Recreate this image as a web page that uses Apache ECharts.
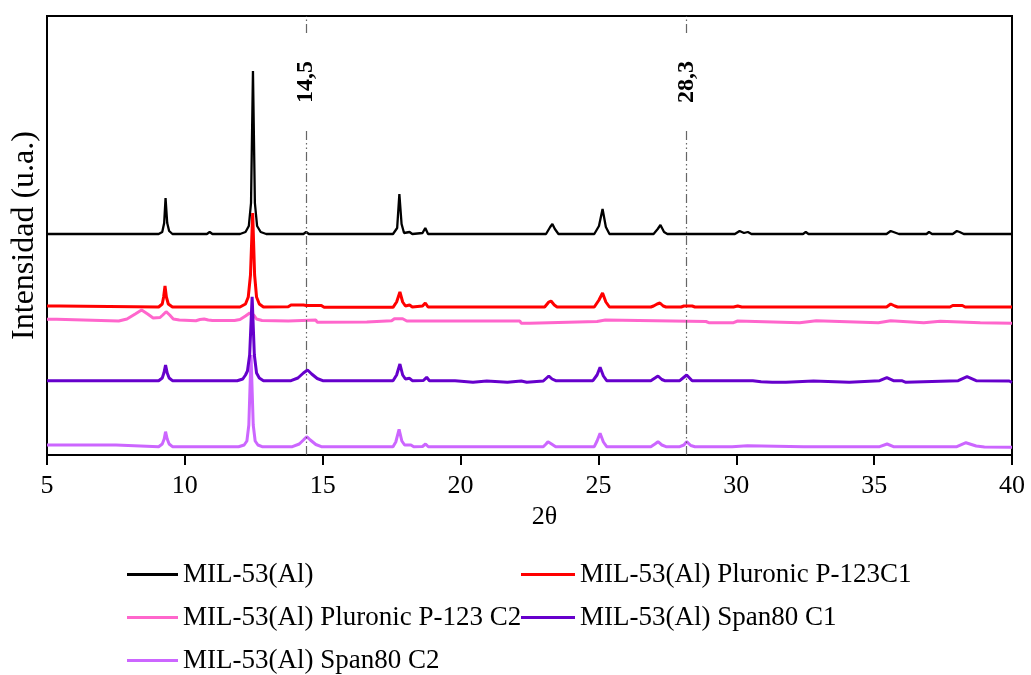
<!DOCTYPE html>
<html>
<head>
<meta charset="utf-8">
<script src="https://cdn.jsdelivr.net/npm/echarts@6/dist/echarts.min.js"></script>
<style>html,body{margin:0;padding:0;background:#fff;}#c{width:1031px;height:675px;}</style>
</head>
<body>
<div id="c"></div>
<script>
// Series names
const seriesNames = ['MIL-53(Al)', 'MIL-53(Al) Pluronic P-123C1', 'MIL-53(Al) Pluronic P-123 C2', 'MIL-53(Al) Span80 C1', 'MIL-53(Al) Span80 C2'];
const seriesColors = ['#000000', '#ff0000', '#ff66cc', '#6600cc', '#cc66ff'];
const xTicks = [5, 10, 15, 20, 25, 30, 35, 40];
// Reference lines (2θ) and their labels
const markerX = [14.4, 28.2];
const markerLabels = ['14,5', '28,3'];

// [2θ, intensity (a.u., stacked with offsets)]
const mil53 = [
[5,221],[9.05,221],[9.18,223],[9.25,232],[9.3,257],[9.36,232],[9.43,224],[9.55,221],
[10.8,221],[10.9,223],[11.0,221],
[12.0,221],[12.2,223],[12.32,229],[12.4,252],[12.47,384],[12.54,252],[12.62,229],[12.75,223],[12.95,221],
[14.3,221],[14.4,223],[14.5,221],
[17.55,221],[17.7,227],[17.78,261],[17.86,231],[17.95,222],[18.15,223],[18.25,221],[18.62,222],[18.72,227],[18.82,221],
[19.5,221],[19.57,222],[19.65,221],[20.7,221],[20.77,222],[20.85,221],[21.85,221],[21.92,222],[22.0,221],
[23.1,221],[23.25,228],[23.33,231],[23.42,226],[23.55,221],
[24.85,221],[25.02,229],[25.15,246],[25.27,228],[25.4,221],
[27.0,221],[27.15,226],[27.25,230],[27.38,223],[27.5,221],
[29.95,221],[30.12,224],[30.28,222],[30.42,223],[30.55,221],
[32.42,221],[32.52,223],[32.62,221],
[35.45,221],[35.6,224],[35.67,226],[35.8,222],[35.9,221],
[36.9,221],[36.99,223],[37.1,221],
[37.85,221],[38.0,224],[38.1,223],[38.25,221],[40,221]
];
const pluronicC1 = [
[5,149],[5.45,149],[5.5,148],[9.05,148],[9.18,151],[9.23,158],[9.28,169],[9.33,158],[9.4,151],[9.55,148],
[10.85,148],[10.9,149],[10.95,148],
[12.0,148],[12.2,151],[12.3,158],[12.38,180],[12.46,242],[12.53,180],[12.6,158],[12.7,151],[12.85,148],
[13.75,148.3],[13.85,150],[14.3,150],[14.4,149.5],[14.95,149.5],[15.05,147.7],
[17.55,147.7],[17.68,153],[17.8,163],[17.9,153],[18.0,149],[18.15,150],[18.25,148],[18.62,149],[18.72,152],[18.82,148],
[23.05,148],[23.2,153],[23.28,154],[23.4,150],[23.5,148],
[24.85,148],[25.02,155],[25.15,162],[25.27,153],[25.4,148],
[26.9,148],[27.0,149],[27.13,151],[27.23,152],[27.35,149],[27.45,148],
[28.0,148],[28.1,149],[28.4,149],[28.5,148],
[29.9,148],[29.95,149],[30.05,149],[30.12,150],[30.2,148],[32.45,148],[32.52,149],[32.6,148],
[35.45,148],[35.6,151],[35.75,149],[35.85,148],[36.95,148],[37.0,149],[37.05,148],[37.75,148],[37.85,149.5],[38.2,149.5],[38.3,148],[40,148]
];
const pluronicC2 = [
[5,135.7],[5.35,135.7],[5.4,134],[7.6,134],[7.9,136],[8.2,141],[8.43,145],[8.65,141],[8.85,137],[9.1,137.5],[9.2,140],[9.32,143.3],[9.45,140],[9.58,136],[9.8,135],[10.4,134.3],[10.55,135.5],[10.7,136],[10.85,135],[11.0,134.5],
[11.8,134.5],[12.0,135.5],[12.2,139],[12.35,142],[12.5,140],[12.6,136],[12.8,134.5],
[13.75,134],[13.8,135],[14.75,135],[14.8,132.7],
[16.6,133],[16.65,134],[17.5,134.3],[17.6,136.3],[17.9,136.3],[18.05,134],[18.65,134],[18.72,135],[18.8,134],
[22.15,134],[22.2,131.7],[22.5,131.7],[22.55,133.5],
[24.95,133.5],[25.0,135],[25.25,135],[25.3,133.5],
[28.9,133.5],[29.0,132.3],[29.9,132.3],[29.95,134],[30.05,134],[30.1,132.3],
[32.3,132.3],[32.35,134.3],[32.9,134.3],[32.95,132.3],
[35.15,132.3],[35.2,134.3],[35.6,134.3],[35.65,132.3],
[36.8,132.3],[36.85,133.7],[37.4,133.7],[37.45,132.3],
[38.85,132.3],[38.9,131.7],[40,131.7]
];
const span80C1 = [
[5,74.3],[9.05,74.3],[9.18,77],[9.24,82],[9.3,90],[9.36,82],[9.43,77],[9.55,74.3],
[11.9,74.3],[12.1,76],[12.2,80],[12.27,84],[12.35,100],[12.44,158.3],[12.52,100],[12.6,82],[12.7,77],[12.85,74.3],
[13.85,74.3],[14.1,77],[14.3,82],[14.45,85],[14.6,81],[14.8,76.5],[15.0,74.3],
[17.55,74.3],[17.68,80],[17.8,91],[17.9,80],[18.0,76],[18.15,76.7],[18.25,74.3],[18.65,74.5],[18.77,77.7],[18.87,74.3],
[19.8,74.3],[19.85,72.7],[20.45,72.7],[20.5,74],[20.95,74],[21.0,72.7],[21.7,72.7],[21.75,74],[22.2,74],[22.25,72.7],[22.4,72.7],[22.45,74],
[23.0,74],[23.12,77],[23.2,79],[23.32,76],[23.45,74.3],
[24.8,74.3],[24.95,80],[25.06,87.7],[25.18,79],[25.3,74.3],
[26.9,74.3],[27.05,77],[27.16,79],[27.3,75.5],[27.4,74.3],
[27.95,74.3],[28.2,80],[28.4,74.3],
[30.6,74.3],[30.65,72.7],[30.9,73.3],[31.3,72.7],[31.8,72.7],[31.85,74],[32.8,74],[32.85,72.7],[34.1,72.7],[34.15,74],
[35.2,74.3],[35.46,77.3],[35.7,74.3],[36.0,74.3],[36.05,72.7],[36.15,72.7],[36.2,74.3],
[38.05,74.3],[38.37,78.3],[38.7,74.3],[39.9,74],[40,72.7]
];
const span80C2 = [
[5,10],[7.5,10],[7.55,8.3],[9.05,8.3],[9.18,11],[9.25,16],[9.3,23.3],[9.36,16],[9.43,11],[9.55,8.3],
[11.95,8.3],[12.15,10],[12.25,14],[12.32,30],[12.4,100],[12.48,30],[12.55,14],[12.65,10],[12.8,8.3],
[13.9,8.3],[14.15,11],[14.3,15],[14.42,18.3],[14.55,15],[14.75,10.5],[14.95,8.3],
[17.55,8.3],[17.65,13],[17.77,25.7],[17.87,14],[17.97,10],[18.2,10],[18.3,8.3],[18.62,8.5],[18.73,11],[18.83,8.3],
[19.55,8.3],[19.6,9.5],[19.65,8.3],[20.68,8.3],[20.73,9.5],[20.8,8.3],
[23.0,8.3],[23.1,11],[23.17,13.3],[23.3,11],[23.45,8.3],
[24.85,8.3],[24.95,14],[25.06,21.7],[25.18,13],[25.3,8.3],
[26.9,8.3],[27.05,11],[27.16,13.3],[27.3,10],[27.45,8.3],
[27.95,8.3],[28.1,10],[28.2,13.3],[28.35,9.5],[28.5,8.3],
[29.85,8.3],[29.9,9.3],[30.4,9.3],[30.45,8.3],[32.45,8.3],[32.5,9.3],[32.55,8.3],
[35.2,8.3],[35.47,11],[35.7,8.3],[36.85,8.3],[36.9,9.3],[36.95,8.3],
[38.0,8.3],[38.33,12.3],[38.7,9],[39.0,8],[40,7.7]
];
const allData = [mil53, pluronicC1, pluronicC2, span80C1, span80C2];
const drawOrder = [4, 2, 0, 1, 3];
const yMax = 439;
const lineGapLow = 325, lineGapHigh = 422, labelY = 373;

const font = 'Liberation Serif';
const chart = echarts.init(document.getElementById('c'), null, {renderer: 'canvas'});

const markLineData = [];
const markPointData = [];
markerX.forEach((x, i) => {
  markLineData.push([{coord: [x, 0]}, {coord: [x, lineGapLow]}]);
  markLineData.push([{coord: [x, lineGapHigh]}, {coord: [x, yMax]}]);
  markPointData.push({coord: [x, labelY], value: markerLabels[i]});
});

const series = drawOrder.map((idx, k) => {
  const s = {
    name: seriesNames[idx],
    type: 'line',
    data: allData[idx],
    symbol: 'none',
    showSymbol: false,
    z: 2 + k,
    itemStyle: {color: seriesColors[idx]},
    lineStyle: {color: seriesColors[idx], width: idx === 0 ? 2.3 : 3},
    silent: true
  };
  if (k === 0) {
    s.markLine = {
      silent: true, symbol: ['none', 'none'],
      label: {show: false},
      lineStyle: {color: '#555', width: 1.2, type: [9, 3, 1.5, 3, 1.5, 3], opacity: 0.9},
      data: markLineData
    };
    s.markPoint = {
      silent: true, symbol: 'circle', symbolSize: 0,
      label: {show: true, position: 'inside', rotate: 90, formatter: p => p.value,
        fontFamily: font, fontWeight: 'bold', fontSize: 24, color: '#000'},
      data: markPointData
    };
  }
  return s;
});

const legendText = {fontFamily: font, fontSize: 27, color: '#000'};
chart.setOption({
  animation: false,
  backgroundColor: '#fff',
  grid: {left: 47, right: 19, top: 16, bottom: 220, show: true, borderColor: '#000', borderWidth: 2, backgroundColor: 'transparent'},
  legend: [
    {left: 127, top: 561, height: 140, padding: 0, orient: 'vertical', itemGap: 16, icon: 'rect', itemWidth: 51, itemHeight: 3,
      data: [seriesNames[0], seriesNames[2], seriesNames[4]], textStyle: legendText, selectedMode: false},
    {left: 521, top: 561, height: 140, padding: 0, orient: 'vertical', itemGap: 16, icon: 'rect', itemWidth: 54, itemHeight: 3,
      data: [seriesNames[1], seriesNames[3]], textStyle: legendText, selectedMode: false}
  ],
  xAxis: {
    type: 'value', min: 5, max: 40, interval: 5,
    name: '2θ', nameLocation: 'middle', nameGap: 38,
    nameTextStyle: {fontFamily: font, fontSize: 26, color: '#000', padding: [0, 0, 0, 30]},
    axisLine: {show: true, lineStyle: {color: '#000', width: 2}},
    axisTick: {show: true, inside: false, length: 10, lineStyle: {color: '#000', width: 2}},
    axisLabel: {margin: 18, fontFamily: font, fontSize: 26, color: '#000'},
    splitLine: {show: false}
  },
  yAxis: {
    type: 'value', min: 0, max: yMax,
    name: 'Intensidad (u.a.)', nameLocation: 'middle', nameGap: 6,
    nameTextStyle: {fontFamily: font, fontSize: 32, color: '#000'},
    axisLine: {show: true, lineStyle: {color: '#000', width: 2}},
    axisTick: {show: false}, axisLabel: {show: false}, splitLine: {show: false}
  },
  series: series
});
</script>
</body>
</html>
